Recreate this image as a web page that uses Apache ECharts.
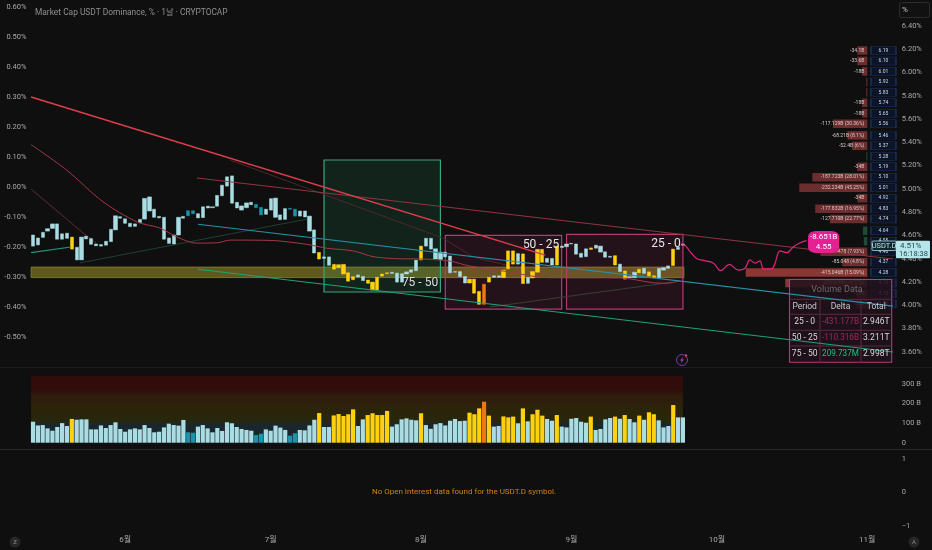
<!DOCTYPE html>
<html><head><meta charset="utf-8">
<script src="https://cdn.jsdelivr.net/npm/echarts@6/dist/echarts.min.js"></script>
<style>html,body{margin:0;padding:0;background:#0f0f0f}#c{width:932px;height:550px}</style>
</head><body><div id="c"></div>
<script>
// ---- data ----
const chartTitle = 'Market Cap USDT Dominance, % · 1날 · CRYPTOCAP';
const noDataText = 'No Open Interest data found for the USDT.D symbol.';
// candle body top / bottom, percent on the left axis
const bodyTop = [-0.160,-0.170,-0.151,-0.139,-0.123,-0.123,-0.156,-0.154,-0.167,-0.201,-0.167,-0.164,-0.172,-0.190,-0.192,-0.181,-0.141,-0.096,-0.099,-0.106,-0.121,-0.123,-0.108,-0.038,-0.033,-0.074,-0.098,-0.101,-0.170,-0.160,-0.101,-0.098,-0.079,-0.079,-0.089,-0.066,-0.064,-0.066,-0.028,0.006,0.034,0.037,-0.051,-0.063,-0.053,-0.051,-0.058,-0.068,-0.074,-0.039,-0.037,-0.093,-0.072,-0.071,-0.074,-0.080,-0.080,-0.097,-0.143,-0.218,-0.233,-0.233,-0.258,-0.259,-0.258,-0.286,-0.299,-0.293,-0.298,-0.310,-0.317,-0.301,-0.290,-0.286,-0.284,-0.287,-0.289,-0.283,-0.276,-0.244,-0.197,-0.171,-0.171,-0.206,-0.217,-0.217,-0.230,-0.282,-0.282,-0.298,-0.307,-0.307,-0.348,-0.324,-0.301,-0.296,-0.296,-0.277,-0.213,-0.213,-0.222,-0.223,-0.301,-0.282,-0.208,-0.208,-0.238,-0.238,-0.197,-0.197,-0.190,-0.188,-0.190,-0.221,-0.206,-0.203,-0.194,-0.197,-0.216,-0.231,-0.229,-0.257,-0.280,-0.299,-0.284,-0.274,-0.271,-0.283,-0.296,-0.271,-0.269,-0.263,-0.207,-0.201,-0.190];
const bodyBottom = [-0.197,-0.193,-0.168,-0.147,-0.138,-0.174,-0.174,-0.171,-0.207,-0.243,-0.243,-0.173,-0.191,-0.196,-0.197,-0.194,-0.182,-0.143,-0.104,-0.121,-0.132,-0.131,-0.119,-0.107,-0.080,-0.101,-0.103,-0.174,-0.188,-0.190,-0.160,-0.104,-0.096,-0.089,-0.103,-0.102,-0.070,-0.069,-0.064,-0.029,0.003,-0.054,-0.070,-0.077,-0.069,-0.059,-0.069,-0.093,-0.091,-0.077,-0.101,-0.109,-0.108,-0.074,-0.097,-0.097,-0.100,-0.147,-0.220,-0.240,-0.238,-0.261,-0.274,-0.269,-0.290,-0.314,-0.309,-0.300,-0.312,-0.321,-0.343,-0.343,-0.297,-0.289,-0.288,-0.317,-0.317,-0.290,-0.284,-0.279,-0.243,-0.197,-0.207,-0.240,-0.242,-0.233,-0.286,-0.284,-0.299,-0.320,-0.320,-0.354,-0.391,-0.391,-0.317,-0.301,-0.301,-0.302,-0.273,-0.257,-0.257,-0.322,-0.321,-0.303,-0.284,-0.251,-0.251,-0.260,-0.260,-0.202,-0.199,-0.190,-0.224,-0.234,-0.232,-0.208,-0.204,-0.217,-0.234,-0.234,-0.260,-0.282,-0.307,-0.302,-0.302,-0.286,-0.288,-0.297,-0.302,-0.302,-0.277,-0.271,-0.262,-0.208,-0.194];
// volume, billions
const volumes = [107,88,90,73,61,80,100,85,121,117,119,119,68,68,88,75,90,104,70,56,68,73,68,90,75,53,56,78,97,90,87,116,53,51,82,90,73,53,75,60,104,99,80,70,65,61,39,46,68,61,87,77,65,36,48,65,63,88,117,151,80,80,139,146,136,145,170,85,119,141,150,141,141,162,82,94,119,124,117,114,150,90,71,94,100,88,112,121,110,112,153,145,175,209,138,82,85,134,129,133,99,175,109,145,168,138,121,112,141,82,78,122,126,107,102,133,65,70,119,126,133,122,141,121,104,138,117,155,145,114,78,85,192,129,129];
const yellowBars = [9,60,63,64,65,66,67,70,71,72,73,74,81,91,92,93,95,98,99,100,102,104,105,106,109,116,121,123,126,128,129,133];
const tealBars = [33,34,47,48,54,55];
const orangeBars = [94];
// lines as [day, percent]
const upperRedLine = [[5.6,0.300],[111.6,-0.227]];
const upperTrend = [[39.8,0.030],[183.3,-0.240]];
const middleTrend = [[40,-0.124],[183.3,-0.397]];
const lowerTrend = [[40,-0.274],[183.3,-0.550]];
const averageLine = [[5.6,0.141],[12.9,0.057],[20.4,-0.049],[27.4,-0.116],[32.2,-0.137],[35.6,-0.166],[39.7,-0.187],[43.9,-0.186],[46.7,-0.177],[54.9,-0.178],[62.4,-0.191],[66.6,-0.204],[72,-0.213],[76.1,-0.232],[81,-0.239],[86.4,-0.240],[92,-0.247],[95.9,-0.263],[103.7,-0.282],[111.9,-0.302],[127,-0.303],[133.8,-0.319],[136.6,-0.321],[139.4,-0.312]];
const faintRedA = [[5.6,-0.007],[16.3,-0.153],[19,-0.187]];
const shortGreen = [[5.6,-0.219],[13.8,-0.200]];
const darkGreen = [[15.7,-0.253],[62.5,-0.107]];
const faintRedB = [[46.6,0.090],[90.5,-0.170],[96.7,-0.233],[104,-0.262]];
const faintGrey = [[100.2,-0.400],[137.9,-0.317]];
const projection = [[139.9,-0.192],[140.6,-0.197],[141.5,-0.216],[142.8,-0.238],[144.6,-0.246],[146.3,-0.254],[147.8,-0.279],[149.6,-0.258],[151.4,-0.277],[152.8,-0.271],[153.8,-0.243],[154.9,-0.254],[155.9,-0.246],[156.6,-0.273],[158.3,-0.273],[159,-0.254],[160,-0.213],[161.4,-0.219],[162.8,-0.199],[164.2,-0.186],[165.5,-0.179]];
const calloutPoint = [[169,-0.183]];
const calloutText = '-8.651B\n4.55';
// volume profile
const levelPrices = [6.19,6.10,6.01,5.92,5.83,5.74,5.65,5.56,5.46,5.37,5.28,5.19,5.10,5.01,4.92,4.83,4.74,4.64,4.55,4.46,4.37,4.28,4.19,4.10,4.01];
const levelDeltas = [-34,-34,-18,-3,-3,-18,-18,-117.1,-68,-52,3,-34,-187.7,-232.2,-34,-177.8,-127.7,15,12,-160,-85,-415,-280,-36,-36];
const levelTexts = ['-34.1B','-33.6B','-18B','','','-18B','-18B','-117.129B (30.36%)','-68.21B (8.1%)','-52.4B (6%)','','-34B','-187.723B (28.01%)','-232.234B (45.25%)','-34B','-177.832B (16.95%)','-127.710B (22.77%)','','','-160.6478 (7.93%)','-85.048 (4.8%)','-415.046B (15.09%)','-286.030B (-4.77%)','-36B','-36B'];
// axis ticks
const pctTickFormat = 2;
const priceTicks = [3.6,3.8,4.0,4.2,4.4,4.6,4.8,5.0,5.2,5.4,5.6,5.8,6.0,6.2,6.4];
const volumeTicks = [0,100,200,300];
const oiTicks = [-1,0,1];
// table
const tableHead = ['Period','Delta','Total'];
const tablePeriods = ['25 - 0','50 - 25','75 - 50'];
const tableDeltas = ['-431.177B','-110.316B','209.737M'];
const tableTotals = ['2.946T','3.211T','2.998T'];

// ---- layout helpers ----
const dayCount = 185, firstBarDay = 6;
const font = 'Roboto,"Noto Sans CJK KR",sans-serif';
const axisGrey = '#a8a8a8';
const categories = [];
for (let d = 0; d < dayCount; d++) { const t = new Date(2025, 4, 7 + d); categories.push((t.getMonth()+1) + '/' + t.getDate()); }
const pad = Array(firstBarDay).fill('-');
function barColor(i){ const n=i+1; if(orangeBars.includes(n))return '#f0760f'; if(yellowBars.includes(n))return '#ffd10f'; if(tealBars.includes(n))return '#1c93a8'; return '#a9dce3'; }
const candleData = pad.concat(bodyTop.map((t,i)=>{ const c=barColor(i); const b=bodyBottom[i];
  return {value:[b,t,b,t],itemStyle:{color:c,color0:c,borderColor:c,borderColor0:c,borderWidth:0.5}}; }));
const volumeData = pad.concat(volumes.map((v,i)=>{ const c=barColor(i); return {value:v,itemStyle:{color:c}}; }));
const line = (data,color,width,z,extra)=>Object.assign({type:'line',xAxisIndex:3,yAxisIndex:0,data,showSymbol:false,silent:true,z:z||5,lineStyle:{color,width:width||1},animation:false},extra||{});
const box = (a,b,c,d,fill,stroke)=>[{coord:[a,b],itemStyle:{color:fill,borderColor:stroke,borderWidth:1.2}},{coord:[c,d]}];

const gridLeft=1.5, gridRight=33.25;
const yLabel = {color:axisGrey,fontSize:7.5,fontFamily:font,margin:3,padding:[2,0,0,0]};
const option = {
  backgroundColor:'#0f0f0f', animation:false,
  grid:[
    {left:gridLeft,right:gridRight,top:7,height:360},
    {left:gridLeft,right:gridRight,top:376,height:66.7},
    {left:gridLeft,right:gridRight,top:459,height:67}
  ],
  xAxis:[
    {type:'category',gridIndex:0,data:categories,show:false},
    {type:'category',gridIndex:1,data:categories,show:false},
    {type:'category',gridIndex:2,data:categories,axisLine:{show:false},axisTick:{show:false},
      axisLabel:{color:axisGrey,fontSize:8,fontFamily:font,margin:10,
        interval:(i,v)=>v.endsWith('/1'),formatter:v=>v.split('/')[0]+'월'}},
    {type:'value',gridIndex:0,min:-0.5,max:184.5,show:false},
    {type:'value',gridIndex:0,min:-107.3,max:2955,inverse:true,show:false},
    {type:'value',gridIndex:1,min:-0.5,max:184.5,show:false}
  ],
  yAxis:[
    {type:'value',gridIndex:0,min:-0.6,max:0.6,interval:0.1,position:'left',offset:-26,splitLine:{show:false},axisLine:{show:false},axisTick:{show:false},
      axisLabel:Object.assign({},yLabel,{margin:1,showMinLabel:false,formatter:v=>(Math.abs(v)<1e-9?0:v).toFixed(pctTickFormat)+'%'})},
    {type:'value',gridIndex:0,min:3.468,max:6.564,position:'right',splitLine:{show:false},axisLine:{show:false},axisTick:{show:false},
      axisLabel:Object.assign({},yLabel,{customValues:priceTicks,formatter:v=>v.toFixed(2)+'%'})},
    {type:'value',gridIndex:1,min:0,max:340,position:'right',splitLine:{show:false},axisLine:{show:false},axisTick:{show:false},
      axisLabel:Object.assign({},yLabel,{customValues:volumeTicks,formatter:v=>v===0?'0':v+' B'})},
    {type:'value',gridIndex:2,min:-1,max:1,position:'right',splitLine:{show:false},axisLine:{show:false},axisTick:{show:false},
      axisLabel:Object.assign({},yLabel,{customValues:oiTicks,formatter:v=>v<0?'−'+Math.abs(v):String(v)})}
  ],
  series:[
    // zones
    {type:'line',xAxisIndex:3,yAxisIndex:0,data:[],z:1,silent:true,
      markArea:{silent:true,z:1,data:[
        [{coord:[5.6,-0.267],itemStyle:{color:'rgba(150,138,40,0.6)',borderColor:'#8d8332',borderWidth:0.8}},{coord:[140.2,-0.302]}],
        box(66,0.090,90,-0.350,'rgba(44,160,110,0.14)','#3aa57f'),
        box(91,-0.161,115,-0.407,'rgba(205,45,115,0.11)','#b83775'),
        box(116,-0.158,140,-0.407,'rgba(205,45,115,0.11)','#b83775')
      ]}},
    // volume profile
    {type:'custom',xAxisIndex:4,yAxisIndex:1,z:2,silent:true,clip:false,
      data:levelDeltas.map((d,i)=>[d,levelPrices[i]]),
      renderItem(params,api){
        const d=api.value(0),p=api.value(1),i=params.dataIndex;
        const a=api.coord([0,p]),b=api.coord([Math.abs(d),p]);
        const h=8.5,w=Math.max(1,a[0]-b[0]);
        const fill=d>0?'#1e4a38':(Math.abs(d)>250?'#8a3733':'#6c2d2e');
        const kids=[{type:'rect',shape:{x:a[0]-w,y:a[1]-h/2,width:w,height:h},style:{fill}}];
        if(levelTexts[i]) kids.push({type:'text',style:{x:a[0]-3,y:a[1],text:levelTexts[i],fill:'#d9cccc',font:'5px Roboto',align:'right',verticalAlign:'middle'}});
        return {type:'group',children:kids};
      }},
    {type:'scatter',xAxisIndex:3,yAxisIndex:1,z:2,silent:true,symbol:'rect',symbolSize:[25,8],
      data:levelPrices.map(p=>[181.35,p]),
      itemStyle:{color:'#0c1428',borderColor:'#1c3260',borderWidth:0.8,opacity:1},
      label:{show:true,position:'inside',fontSize:5,fontFamily:font,color:'#cfd8ea',formatter:o=>o.value[1].toFixed(2)}},
    // candles
    {type:'candlestick',xAxisIndex:0,yAxisIndex:0,data:candleData,barWidth:3.7,z:4,silent:true},
    // lines
    line(faintGrey,'#3d3d36',1,3),
    line(darkGreen,'#1f3f33',1,3),
    line(faintRedA,'#5d2a30',1,3),
    line(faintRedB,'#4e2629',1,3),
    line(shortGreen,'#1f9a78',1.2,5),
    line(averageLine,'#a03a46',1,5,{smooth:0.3}),
    line(upperTrend,'#8f3542',1.1,5),
    line(middleTrend,'#2a8ea6',1.1,5),
    line(lowerTrend,'#22a07a',1.1,5),
    line(upperRedLine,'#dd3f4d',1.5,5),
    line(projection,'#e0257e',1.2,6,{smooth:0.35}),
    {type:'scatter',xAxisIndex:3,yAxisIndex:0,z:7,silent:true,data:calloutPoint,symbol:'roundRect',symbolSize:[31,22],
      itemStyle:{color:'#e61f93',opacity:1},
      label:{show:true,position:'inside',color:'#fff',fontSize:8,lineHeight:10.5,fontFamily:font,formatter:()=>calloutText}},
    // volume
    {type:'line',xAxisIndex:5,yAxisIndex:2,data:[],z:1,silent:true,
      markArea:{silent:true,z:1,data:[[{coord:[5.6,340],itemStyle:{color:new echarts.graphic.LinearGradient(0,0,0,1,[
        {offset:0,color:'#330c0c'},{offset:0.2,color:'#300d0b'},{offset:0.3,color:'#2f1c0c'},{offset:0.5,color:'#2b240a'},{offset:0.68,color:'#27270d'},{offset:0.72,color:'#1a272c'},{offset:1,color:'#182328'}])}},{coord:[140,0]}]]}},
    {type:'bar',xAxisIndex:1,yAxisIndex:2,data:volumeData,barWidth:4.2,z:3,silent:true}
  ],
  graphic:{elements:buildGraphics()}
};
function txt(x,y,text,fill,size,align,z){return {type:'text',z:z||9,silent:true,style:{x,y,text,fill,font:size+'px '+font,align:align||'center',verticalAlign:'middle'}};}
function hline(y,stroke,x1,x2,z,w){return {type:'line',z:z||0,silent:true,shape:{x1:x1,y1:y,x2:x2,y2:y},style:{stroke,lineWidth:w||1}};}
function vline(x,stroke,y1,y2,z,w){return {type:'line',z:z||0,silent:true,shape:{x1:x,y1:y1,x2:x,y2:y2},style:{stroke,lineWidth:w||1}};}
function buildGraphics(){
  const g=[];
  g.push(txt(35,12.5,chartTitle,'#8f8f8f',8.4,'left'));
  g.push(hline(367.5,'#1d1d1d',0,932), hline(449.5,'#262626',0,932));
  g.push(txt(464,491.5,noDataText,'#c9851a',8));
  // zone labels
  g.push(txt(420,283,'75 - 50','#dcdcdc',12), txt(541,245,'50 - 25','#e6e6e6',12), txt(666,244,'25 - 0','#e6e6e6',12));
  // scale button
  g.push({type:'rect',z:9,silent:true,shape:{x:899.5,y:2.5,width:30,height:15,r:2},style:{fill:'#111',stroke:'#2c2c2c',lineWidth:1}});
  g.push(txt(905,10,'%','#c8c8c8',8));
  // last price label
  g.push({type:'rect',z:9,silent:true,shape:{x:872,y:241,width:24,height:9.5,r:1},style:{fill:'#12262e',stroke:'#a9dce3',lineWidth:0.8}});
  g.push({type:'rect',z:9,silent:true,shape:{x:896,y:240.7,width:34,height:17.5,r:1},style:{fill:'#b5e5e8'}});
  g.push(txt(884,246,'USDT.D','#b5e5e8',7.5,'center',10), txt(900,246,'4.51%','#1c4b55',8,'left',10), txt(899,253.7,'16:18:38','#1c4b55',7.5,'left',10));
  // table
  const L=789.5,R=891.7,T=279.5,B=362.3,cols=[820,861],rows=[299.3,314.3,330.3,346],cx=[804.7,840.5,876.3],cy=[306.5,322,338,354];
  g.push({type:'rect',z:3,silent:true,shape:{x:L,y:T,width:R-L,height:B-T},style:{fill:'rgba(34,18,28,0.88)',stroke:'#b83775',lineWidth:1.1}});
  rows.forEach(y=>g.push(hline(y,'#5a2b40',L,R,3)));
  cols.forEach(x=>g.push(vline(x,'#5a2b40',rows[0],B,3)));
  g.push(txt(837,290,'Volume Data','#6f6a6a',9));
  tableHead.forEach((t,i)=>g.push(txt(cx[i],cy[0],t,'#c8c8c8',8.5)));
  tablePeriods.forEach((t,i)=>{
    g.push(txt(cx[0],cy[i+1],t,'#d8d8d8',8.5));
    g.push(txt(cx[1],cy[i+1],tableDeltas[i],tableDeltas[i][0]==='-'?'#a5265f':'#21c07e',8.2));
    g.push(txt(cx[2],cy[i+1],tableTotals[i],'#d8d8d8',8.5));
  });
  // lightning badge
  g.push({type:'circle',z:9,silent:true,shape:{cx:682,cy:360,r:5.5},style:{fill:'#111',stroke:'#7d3aa6',lineWidth:1}});
  g.push({type:'polygon',z:9,silent:true,shape:{points:[[683.5,356.5],[680,360.5],[682,360.5],[680.5,363.5],[684,359.5],[682,359.5]]},style:{fill:'#a14ac8'}});
  g.push({type:'circle',z:9,silent:true,shape:{cx:686,cy:355.5,r:1.2},style:{fill:'#e0405a'}});
  // corner badges
  [[15,'Z'],[914,'A']].forEach(([x,t])=>{
    g.push({type:'circle',z:9,silent:true,shape:{cx:x,cy:542,r:5.5},style:{fill:'#262626'}});
    g.push(txt(x,542,t,'#8c8c8c',6));
  });
  return g;
}
const chart = echarts.init(document.getElementById('c'),null,{renderer:'canvas',width:932,height:550});
chart.setOption(option);
</script></body></html>
